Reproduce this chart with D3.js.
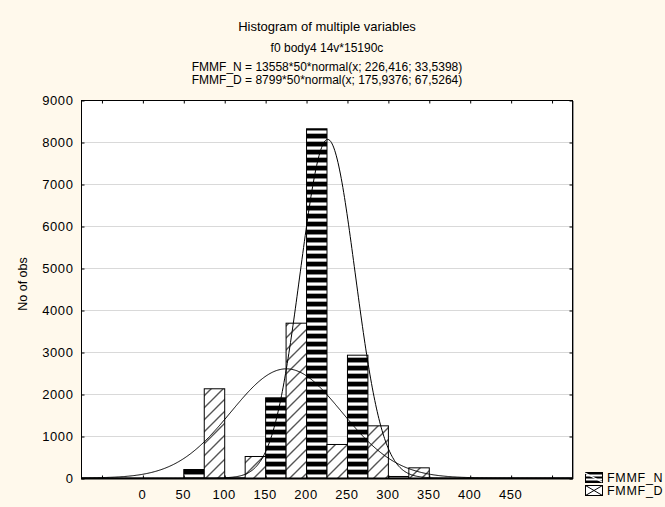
<!DOCTYPE html>
<html>
<head>
<meta charset="utf-8">
<script src="https://cdn.jsdelivr.net/npm/d3@7"></script>
<style>
  html, body { margin: 0; padding: 0; background: #FFF9EC; }
  svg { display: block; font-family: "Liberation Sans", Arial, sans-serif; }
</style>
</head>
<body>
<svg id="chart" width="665" height="507"></svg>
<script>
// ---- data ----
const titleLines = [
  "Histogram of multiple variables",
  "f0 body4 14v*15190c",
  "FMMF_N = 13558*50*normal(x; 226,416; 33,5398)",
  "FMMF_D = 8799*50*normal(x; 175,9376; 67,5264)"
];
const seriesNames = ["FMMF_N", "FMMF_D"];
const binStarts = [-50, 0, 50, 100, 150, 200, 250, 300, 350, 400, 450];
const binWidth = 50;
const valuesN = [0, 0, 214, 15, 1921, 8326, 2936, 48, 0, 0, 0];
const valuesD = [0, 0, 2136, 524, 3698, 810, 1254, 254, 0, 0, 0];
// fitted normal curve parameters: [count, binWidth, mean, sd]
const fitN = [13558, 50, 226.416, 33.5398];
const fitD = [8799, 50, 175.9376, 67.5264];
const xTickValues = [-50, 0, 50, 100, 150, 200, 250, 300, 350, 400, 450, 500];
const xTickLabels = ["", "0", "50", "100", "150", "200", "250", "300", "350", "400", "450", ""];
const yTickValues = [0, 1000, 2000, 3000, 4000, 5000, 6000, 7000, 8000, 9000];
const yLabel = "No of obs";

// ---- layout ----
const svg = d3.select("#chart");
const L = 81, R = 572, T = 100, B = 478;
const x = d3.scaleLinear().domain([-75, 525]).range([L, R]);
const y = d3.scaleLinear().domain([0, 9000]).range([B, T]);

// patterns
const defs = svg.append("defs");
const pN = defs.append("pattern").attr("id", "stripesN")
  .attr("patternUnits", "userSpaceOnUse").attr("width", 8).attr("height", 8)
  .attr("y", B);
pN.append("rect").attr("width", 8).attr("height", 8).attr("fill", "#fff");
pN.append("rect").attr("y", 0).attr("width", 8).attr("height", 4).attr("fill", "#000");
pN.append("rect").attr("y", 4).attr("width", 8).attr("height", 1).attr("fill", "#888");
pN.append("rect").attr("y", 7).attr("width", 8).attr("height", 1).attr("fill", "#aaa");

const pD = defs.append("pattern").attr("id", "hatchD")
  .attr("patternUnits", "userSpaceOnUse").attr("width", 12).attr("height", 12);
pD.append("rect").attr("width", 12).attr("height", 12).attr("fill", "#fff");
pD.append("path").attr("d", "M-3,3 L3,-3 M0,12 L12,0 M9,15 L15,9")
  .attr("stroke", "#555").attr("stroke-width", 1.4);

const clip = defs.append("clipPath").attr("id", "plotclip");
clip.append("rect").attr("x", L).attr("y", T).attr("width", R - L).attr("height", B - T);

// plot background
svg.append("rect").attr("x", L).attr("y", T).attr("width", R - L).attr("height", B - T)
  .attr("fill", "#fff");

// gridlines
svg.append("g").selectAll("line").data(yTickValues.filter(v => v > 0 && v < 9000)).join("line")
  .attr("x1", L).attr("x2", R)
  .attr("y1", d => y(d) + 0.5).attr("y2", d => y(d) + 0.5)
  .attr("stroke", "#d9d9d9").attr("stroke-width", 1);

// bars
const bars = svg.append("g").attr("clip-path", "url(#plotclip)");
const half = binWidth / 2;
bars.selectAll("rect.n").data(binStarts.map((b, i) => ({ b, v: valuesN[i] }))).join("rect")
  .attr("class", "n")
  .attr("x", d => x(d.b) + 0.5)
  .attr("width", d => x(d.b + half) - x(d.b))
  .attr("y", d => y(d.v) + 0.5)
  .attr("height", d => Math.max(0, y(0) - y(d.v)))
  .attr("fill", "url(#stripesN)").attr("stroke", "#000").attr("stroke-width", 1);
bars.selectAll("rect.d").data(binStarts.map((b, i) => ({ b, v: valuesD[i] }))).join("rect")
  .attr("class", "d")
  .attr("x", d => x(d.b + half) + 0.5)
  .attr("width", d => x(d.b + binWidth) - x(d.b + half))
  .attr("y", d => y(d.v) + 0.5)
  .attr("height", d => Math.max(0, y(0) - y(d.v)))
  .attr("fill", "url(#hatchD)").attr("stroke", "#000").attr("stroke-width", 1);

// fitted curves
function normalCurve(p) {
  const [n, w, mu, sd] = p;
  const xs = d3.range(-75, 525.5, 1);
  return xs.map(v => [v, n * w * Math.exp(-0.5 * ((v - mu) / sd) ** 2) / (sd * Math.sqrt(2 * Math.PI))]);
}
const line = d3.line().x(d => x(d[0])).y(d => y(d[1])).curve(d3.curveBasis);
[fitN, fitD].forEach(p => {
  bars.append("path").attr("d", line(normalCurve(p)))
    .attr("fill", "none").attr("stroke", "#000").attr("stroke-width", 1);
});

// frame
svg.append("rect").attr("x", L + 0.5).attr("y", T + 0.5).attr("width", R - L).attr("height", B - T)
  .attr("fill", "none").attr("stroke", "#000").attr("stroke-width", 1);
svg.append("line").attr("x1", R + 1.5).attr("x2", R + 1.5).attr("y1", T + 1).attr("y2", B + 1)
  .attr("stroke", "#999").attr("stroke-width", 1);
svg.append("line").attr("x1", L).attr("x2", R + 1).attr("y1", B + 0.5).attr("y2", B + 0.5)
  .attr("stroke", "#000").attr("stroke-width", 2);

// axes via d3
const axisFont = "13px";
const xBottom = svg.append("g").attr("transform", `translate(0.5,${B + 0.5})`)
  .call(d3.axisBottom(x).tickValues(xTickValues).tickSize(-3).tickPadding(11)
    .tickFormat((d, i) => xTickLabels[i]));
const xTop = svg.append("g").attr("transform", `translate(0.5,${T + 0.5})`)
  .call(d3.axisTop(x).tickValues(xTickValues).tickSize(-3).tickFormat(""));
const yLeft = svg.append("g").attr("transform", `translate(${L + 0.5},0.5)`)
  .call(d3.axisLeft(y).tickValues(yTickValues).tickSize(-3).tickPadding(8)
    .tickFormat(d3.format("d")));
const yRight = svg.append("g").attr("transform", `translate(${R + 0.5},0.5)`)
  .call(d3.axisRight(y).tickValues(yTickValues).tickSize(-3).tickFormat(""));
[xBottom, xTop, yLeft, yRight].forEach(g => {
  g.select(".domain").remove();
  g.selectAll(".tick line").attr("stroke", "#000");
  g.selectAll("text").attr("font-size", axisFont).attr("letter-spacing", "0.6px")
    .attr("font-family", "'Liberation Sans', Arial, sans-serif").attr("fill", "#000");
});
xBottom.selectAll("text").attr("dx", "-1px");

// axis title
svg.append("text").attr("transform", `translate(27,${(T + B) / 2 - 5}) rotate(-90)`)
  .attr("text-anchor", "middle").attr("font-size", "12.5px").text(yLabel);

// titles
const titleY = [31, 52, 71, 84];
const titleSize = ["13px", "12px", "12px", "12px"];
svg.append("g").selectAll("text").data(titleLines).join("text")
  .attr("x", (L + R) / 2 + 0.5).attr("y", (d, i) => titleY[i])
  .attr("text-anchor", "middle").attr("font-size", (d, i) => titleSize[i]).text(d => d);

// legend
const leg = svg.append("g");
const iconX = 585, iconW = 17, iconH = 10;
const legY = [472, 485];
const pL = defs.append("pattern").attr("id", "legN").attr("patternUnits", "userSpaceOnUse")
  .attr("width", 4).attr("height", 4).attr("y", legY[0] + 0.5);
pL.append("rect").attr("width", 4).attr("height", 4).attr("fill", "#fff");
pL.append("rect").attr("width", 4).attr("height", 2).attr("fill", "#000");
leg.append("rect").attr("x", iconX + 0.5).attr("y", legY[0] + 0.5).attr("width", iconW).attr("height", iconH)
  .attr("fill", "url(#legN)").attr("stroke", "#000");
leg.append("line").attr("x1", iconX).attr("y1", legY[0] + 1).attr("x2", iconX + iconW).attr("y2", legY[0] + iconH)
  .attr("stroke", "#fff").attr("stroke-width", 1.2);
leg.append("rect").attr("x", iconX + 0.5).attr("y", legY[1] + 0.5).attr("width", iconW).attr("height", iconH)
  .attr("fill", "#fff").attr("stroke", "#000");
leg.append("path")
  .attr("d", `M${iconX + 0.5},${legY[1] + 0.5} L${iconX + iconW + 0.5},${legY[1] + iconH + 0.5} M${iconX + 0.5},${legY[1] + iconH + 0.5} L${iconX + iconW + 0.5},${legY[1] + 0.5}`)
  .attr("stroke", "#000").attr("fill", "none");
leg.selectAll("text").data(seriesNames).join("text")
  .attr("x", iconX + iconW + 5).attr("y", (d, i) => legY[i] + iconH)
  .attr("font-size", "12.5px").attr("letter-spacing", "0.7px").text(d => d);
</script>
</body>
</html>
